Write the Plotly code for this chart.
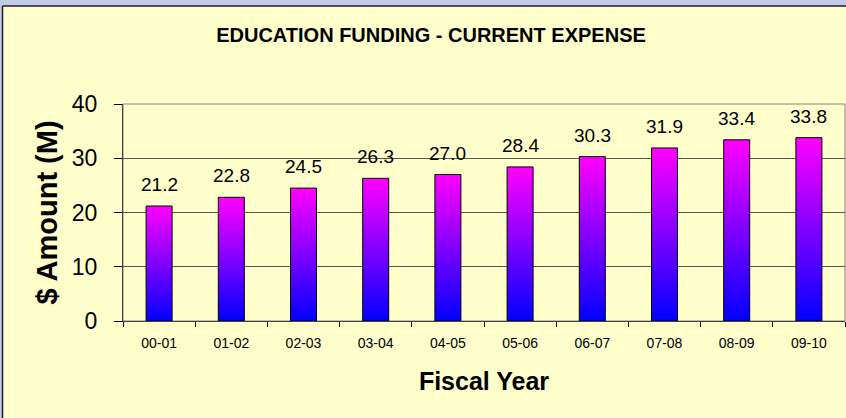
import plotly.graph_objects as go

# ---- data ----
years = ["00-01", "01-02", "02-03", "03-04", "04-05", "05-06", "06-07", "07-08", "08-09", "09-10"]
amounts = [21.2, 22.8, 24.5, 26.3, 27.0, 28.4, 30.3, 31.9, 33.4, 33.8]
y_ticks = [0, 10, 20, 30, 40]

title_text = "EDUCATION FUNDING - CURRENT EXPENSE"
x_title = "Fiscal Year"
y_title = "$ Amount (M)"

# ---- layout constants ----
W, H = 846, 418
ML, MR, MT, MB = 123, 1, 104, 97
PW, PH = W - ML - MR, H - MT - MB
FONT = "Liberation Sans, Arial, sans-serif"
YELLOW = "#FFFFCC"
LAVENDER = "#C3CBEA"
BAR_W = 0.36


def px_x(q):
    return (q - ML) / PW


def px_y(p):
    return (MT + PH - p) / PH


fig = go.Figure()

for i, v in enumerate(amounts):
    x0, x1 = i - BAR_W / 2, i + BAR_W / 2
    fig.add_trace(go.Scatter(
        x=[x0, x1, x1, x0, x0],
        y=[0, 0, v, v, 0],
        mode="lines",
        fill="toself",
        fillgradient=dict(type="vertical",
                          colorscale=[[0, "#0000FF"], [1, "#FF00FF"]]),
        line=dict(color="#000000", width=1),
        showlegend=False,
        hoverinfo="skip",
    ))

for i, v in enumerate(amounts):
    fig.add_annotation(x=i, y=v, text=f"{v:.1f}", showarrow=False,
                       yanchor="bottom", yshift=9,
                       font=dict(family=FONT, size=19, color="#000000"))

shapes = [
    # plot area border
    dict(type="rect", xref="x domain", yref="y domain", x0=0, x1=1, y0=0, y1=1,
         line=dict(color="#808080", width=1), layer="below"),
    # top lavender band
    dict(type="rect", xref="paper", yref="paper", x0=px_x(-10), x1=px_x(W + 10),
         y0=px_y(6), y1=px_y(-10), fillcolor=LAVENDER, line=dict(width=0), layer="below"),
    # left lavender strip
    dict(type="rect", xref="paper", yref="paper", x0=px_x(-10), x1=px_x(2.5),
         y0=px_y(H + 10), y1=px_y(-10), fillcolor=LAVENDER, line=dict(width=0), layer="below"),
    # frame lines
    dict(type="line", xref="paper", yref="paper", x0=px_x(2.5), x1=px_x(W + 10),
         y0=px_y(6), y1=px_y(6), line=dict(color="#1C1C28", width=1.5)),
    dict(type="line", xref="paper", yref="paper", x0=px_x(2.5), x1=px_x(2.5),
         y0=px_y(6), y1=px_y(H + 10), line=dict(color="#1C1C28", width=1.5)),
]

fig.update_layout(
    width=W, height=H,
    margin=dict(l=ML, r=MR, t=MT, b=MB, pad=0),
    paper_bgcolor=YELLOW,
    plot_bgcolor=YELLOW,
    font=dict(family=FONT, color="#000000"),
    shapes=shapes,
    title=dict(text=title_text, x=431 / W, xanchor="center",
               y=1 - 35 / H, yanchor="middle",
               font=dict(family=FONT, size=20, weight="bold", color="#000000")),
    xaxis=dict(
        range=[-0.5, len(years) - 0.5],
        tickmode="array", tickvals=list(range(len(years))), ticktext=years,
        ticks="", showgrid=False, zeroline=False,
        showline=True, linecolor="#404040", linewidth=1,
        tickfont=dict(family=FONT, size=14, color="#000000"),
        ticklabelstandoff=9,
        minor=dict(tickmode="linear", tick0=-0.5, dtick=1, ticks="outside",
                   ticklen=5, tickwidth=1, tickcolor="#000000", showgrid=False),
        title=dict(text=x_title, standoff=22,
                   font=dict(family=FONT, size=25, weight="bold", color="#000000")),
    ),
    yaxis=dict(
        range=[0, 40], tickmode="array", tickvals=y_ticks,
        ticks="outside", ticklen=8, tickwidth=1, tickcolor="#000000",
        showgrid=True, gridcolor="#555555", gridwidth=1,
        zeroline=False, showline=True, linecolor="#404040", linewidth=1,
        tickfont=dict(family=FONT, size=23, color="#000000"),
        ticklabelstandoff=12,
        title=dict(text=y_title, standoff=5,
                   font=dict(family=FONT, size=29, weight="bold", color="#000000")),
    ),
)

fig.write_html("out.html")
